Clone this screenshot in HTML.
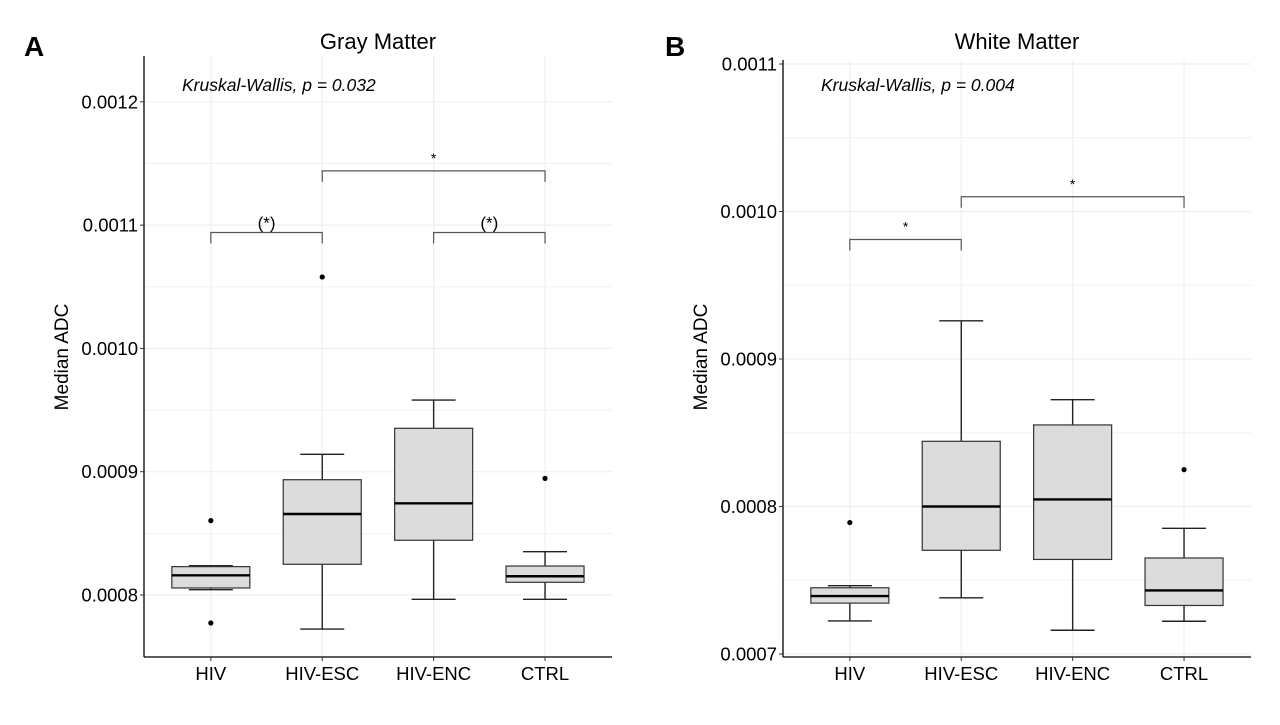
<!DOCTYPE html>
<html><head><meta charset="utf-8"><style>
html,body{margin:0;padding:0;background:#fff;}
svg text{font-family:"Liberation Sans",Arial,sans-serif;}
</style></head><body>
<svg id="chart" width="1280" height="720" viewBox="0 0 1280 720" xmlns="http://www.w3.org/2000/svg"></svg>
<script>
const categories = ["HIV","HIV-ESC","HIV-ENC","CTRL"];
// [lowerWhisker, q1, median, q3, upperWhisker]
const grayBoxes = [
  [0.0008043,0.0008057,0.0008160,0.0008230,0.0008238],
  [0.0007724,0.0008249,0.0008657,0.0008935,0.0009141],
  [0.0007965,0.0008444,0.0008744,0.0009352,0.0009581],
  [0.0007965,0.0008103,0.0008152,0.0008235,0.0008351]
];
const grayOutliers = [[0.0008603,0.0007773],[0.0010579],[],[0.0008946]];
const whiteBoxes = [
  [0.0007224,0.0007345,0.0007393,0.0007449,0.0007463],
  [0.0007381,0.0007703,0.0008000,0.0008442,0.0009259],
  [0.0007161,0.0007641,0.0008048,0.0008553,0.0008724],
  [0.0007222,0.0007329,0.0007431,0.0007651,0.0007852]
];
const whiteOutliers = [[0.0007891],[],[],[0.0008250]];
const grayTicks = [0.0008,0.0009,0.0010,0.0011,0.0012];
const whiteTicks = [0.0007,0.0008,0.0009,0.0010,0.0011];
const grayBrackets = [[0,1,0.001094,"(*)"],[2,3,0.001094,"(*)"],[1,3,0.001144,"*"]];
const whiteBrackets = [[0,1,0.000981,"*"],[1,3,0.001010,"*"]];

const svg = document.getElementById('chart');
const NS = "http://www.w3.org/2000/svg";
function mk(tag, attrs, parent){
  const e = document.createElementNS(NS, tag);
  for (const k in attrs) e.setAttribute(k, attrs[k]);
  (parent||svg).appendChild(e);
  return e;
}

function panel(cfg){
  const g = mk('g', {});
  
  
  const left = cfg.left, right = left + 468, top = cfg.top, bottom = 657;
  const y = v => cfg.y0 - (v - cfg.v0) / 0.0001 * cfg.ppu;
  const x = i => left + (i + 0.6) * 111.4;
  for (let k = 0; k < cfg.ticks.length; k++){
    const t = cfg.ticks[k];
    for (const v of [t, t + 0.00005, t - 0.00005]){
      const yy = y(v);
      if (yy < top || yy > bottom) continue;
      const gl = mk('line', {x1:left, x2:right, y1:yy, y2:yy, stroke:'#efefef', 'stroke-width': v===t?1.2:0.8}, g);
      
      
    }
  }
  categories.forEach((c, i) => {
    const gl = mk('line', {x1:x(i), x2:x(i), y1:top, y2:bottom, stroke:'#efefef', 'stroke-width':1.2}, g);
    
    
  });
  const ya = mk('line', {x1:left, x2:left, y1:top, y2:bottom, stroke:'#000', 'stroke-width':1.3}, g);
  
  
  const xa = mk('line', {x1:left, x2:right, y1:bottom, y2:bottom, stroke:'#000', 'stroke-width':1.3}, g);
  
  
  cfg.ticks.forEach(t => {
    const yy = y(t);
    mk('line', {x1:left-4, x2:left, y1:yy, y2:yy, stroke:'#333', 'stroke-width':1}, g);
    const tl = mk('text', {x:left-6, y:yy+6.5, 'text-anchor':'end', 'font-size':18.5, fill:'#000'}, g);
    tl.textContent = t.toFixed(4);
    
    
  });
  categories.forEach((c, i) => {
    mk('line', {x1:x(i), x2:x(i), y1:bottom, y2:bottom+4, stroke:'#333', 'stroke-width':1}, g);
    const tl = mk('text', {x:x(i), y:680, 'text-anchor':'middle', 'font-size':18.5, fill:'#000'}, g);
    tl.textContent = c;
    
    
  });
  cfg.boxes.forEach((b, i) => {
    const cx = x(i);
    const bg = mk('g', {}, g);
    
    
    mk('line', {x1:cx, x2:cx, y1:y(b[0]), y2:y(b[1]), stroke:'#222', 'stroke-width':1.4}, bg);
    mk('line', {x1:cx, x2:cx, y1:y(b[3]), y2:y(b[4]), stroke:'#222', 'stroke-width':1.4}, bg);
    mk('line', {x1:cx-22, x2:cx+22, y1:y(b[0]), y2:y(b[0]), stroke:'#222', 'stroke-width':1.4}, bg);
    mk('line', {x1:cx-22, x2:cx+22, y1:y(b[4]), y2:y(b[4]), stroke:'#222', 'stroke-width':1.4}, bg);
    mk('rect', {x:cx-39, y:y(b[3]), width:78, height:y(b[1])-y(b[3]), fill:'#dcdcdc', stroke:'#333', 'stroke-width':1.2}, bg);
    mk('line', {x1:cx-39, x2:cx+39, y1:y(b[2]), y2:y(b[2]), stroke:'#000', 'stroke-width':2.4}, bg);
    cfg.outliers[i].forEach(o => {
      const p = mk('circle', {cx:cx, cy:y(o), r:2.6, fill:'#000'}, bg);
      
      
    });
  });
  cfg.brackets.forEach(br => {
    const x1 = x(br[0]), x2 = x(br[1]), yy = y(br[2]);
    const p = mk('path', {d:`M${x1},${yy+11}V${yy}H${x2}V${yy+11}`, fill:'none', stroke:'#555', 'stroke-width':1.2}, g);
    
    
    const t = mk('text', {x:(x1+x2)/2, y: br[3]==='*' ? yy-8 : yy-4, 'text-anchor':'middle', 'font-size':br[3]==='*'?14:17, fill:'#000'}, g);
    t.textContent = br[3];
    
    
  });
  const kw = mk('text', {x:left+38, y:91, 'font-size':17.5, 'font-style':'italic', fill:'#000'}, g);
  kw.textContent = cfg.kw;
  
  
  const ti = mk('text', {x:(left+right)/2, y:49, 'text-anchor':'middle', 'font-size':22, fill:'#000'}, g);
  ti.textContent = cfg.title;
  
  
  const yt = mk('text', {x:0, y:0, 'text-anchor':'middle', 'font-size':19, fill:'#000', transform:`translate(${left-76},357) rotate(-90)`}, g);
  yt.textContent = 'Median ADC';
  
  
  const pl = mk('text', {x:cfg.letterX, y:56, 'font-size':28, 'font-weight':'bold', fill:'#000'}, g);
  pl.textContent = cfg.letter;
  
  
}

panel({name:'gray-matter-panel', left:144, top:56, v0:0.0008, y0:595, ppu:123.3,
  ticks:grayTicks, boxes:grayBoxes, outliers:grayOutliers, brackets:grayBrackets,
  kw:'Kruskal-Wallis, p = 0.032', title:'Gray Matter', letter:'A', letterX:24});
panel({name:'white-matter-panel', left:783, top:60, v0:0.0008, y0:506.5, ppu:147.5,
  ticks:whiteTicks, boxes:whiteBoxes, outliers:whiteOutliers, brackets:whiteBrackets,
  kw:'Kruskal-Wallis, p = 0.004', title:'White Matter', letter:'B', letterX:665});
</script>
</body></html>
